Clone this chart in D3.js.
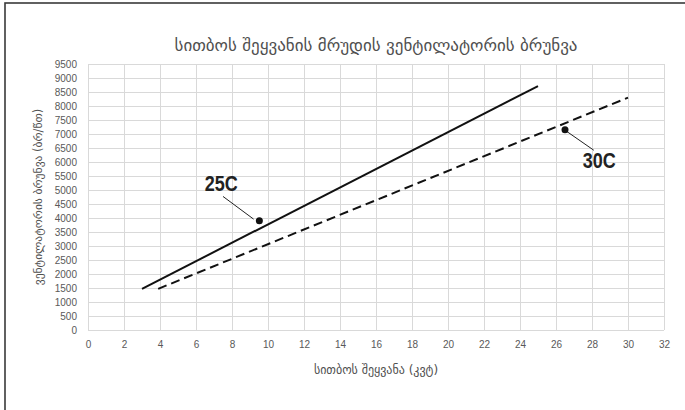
<!DOCTYPE html>
<html>
<head>
<meta charset="utf-8">
<script src="https://cdn.jsdelivr.net/npm/d3@7"></script>
<style>
  body { margin: 0; background: #fff; }
  svg { display: block; }
</style>
</head>
<body>
<svg id="mount" width="685" height="410"></svg>
<script>
var titleText = "სითბოს შეყვანის მრუდის ვენტილატორის ბრუნვა";
var xTitleText = "სითბოს შეყვანა (კვტ)";
var yTitleText = "ვენტილატორის ბრუნვა (ბრ/წთ)";

// tick values
var xTicks = d3.range(0, 33, 2);
var yTicks = d3.range(0, 9501, 500);

// series: heat input (kW) -> fan speed (rpm)
var series25x = [3, 25];
var series25y = [1470, 8710];
var series30x = [3.9, 30];
var series30y = [1470, 8300];

// callouts: label, marker point, text position (data units)
var calloutLabels = ["25C", "30C"];
var calloutPoints = [[9.52, 3900], [26.5, 7150]];
var calloutTextPos = [[7.4, 5250], [28.4, 6050]];
var calloutLineStart = [[7.5, 4770], [26.6, 7090]];
var calloutLineEnd = [[9.2, 3960], [28.1, 6420]];

var fontNum = "'Liberation Sans', Arial, sans-serif";
var fontGeo = "'DejaVu Sans', 'Noto Sans', sans-serif";

var svg = d3.select("#mount");
var margin = { top: 64, right: 21, bottom: 80, left: 88 };
var width = 685 - margin.left - margin.right;
var height = 410 - margin.top - margin.bottom;

// outer frame (right and bottom edges fall outside the view)
svg.append("rect")
  .attr("x", 5)
  .attr("y", 3)
  .attr("width", 720)
  .attr("height", 440)
  .attr("fill", "none")
  .attr("stroke", "#3a3a3a")
  .attr("stroke-width", 1.6);

var g = svg.append("g")
  .attr("transform", "translate(" + margin.left + "," + margin.top + ")");

var xScale = d3.scaleLinear().domain([0, 32]).range([0, width]);
var yScale = d3.scaleLinear().domain([0, 9500]).range([height, 0]);

// gridlines
g.append("g")
  .selectAll("line")
  .data(yTicks)
  .enter()
  .append("line")
  .attr("x1", 0)
  .attr("x2", width)
  .attr("y1", function(d) { return Math.round(yScale(d)) + 0.5; })
  .attr("y2", function(d) { return Math.round(yScale(d)) + 0.5; })
  .attr("stroke", "#d9d9d9")
  .attr("stroke-width", 1);

g.append("g")
  .selectAll("line")
  .data(xTicks)
  .enter()
  .append("line")
  .attr("y1", 0)
  .attr("y2", height)
  .attr("x1", function(d) { return Math.round(xScale(d)) + 0.5; })
  .attr("x2", function(d) { return Math.round(xScale(d)) + 0.5; })
  .attr("stroke", "#d9d9d9")
  .attr("stroke-width", 1);

// x axis
var xAxis = g.append("g")
  .attr("transform", "translate(0," + height + ")")
  .call(d3.axisBottom(xScale).tickValues(xTicks).tickSize(0).tickPadding(11));
xAxis.select(".domain").remove();
xAxis.selectAll("text")
  .attr("fill", "#595959")
  .style("font-family", fontNum)
  .style("font-size", "10px");

// y axis
var yAxis = g.append("g")
  .call(d3.axisLeft(yScale).tickValues(yTicks).tickFormat(d3.format("d")).tickSize(0).tickPadding(11));
yAxis.select(".domain").remove();
yAxis.selectAll("text")
  .attr("fill", "#595959")
  .style("font-family", fontNum)
  .style("font-size", "10px");

// lines
var line = d3.line()
  .x(function(d) { return xScale(d[0]); })
  .y(function(d) { return yScale(d[1]); });

g.append("path")
  .datum(d3.zip(series25x, series25y))
  .attr("fill", "none")
  .attr("stroke", "#111")
  .attr("stroke-width", 2)
  .attr("d", line);

g.append("path")
  .datum(d3.zip(series30x, series30y))
  .attr("fill", "none")
  .attr("stroke", "#111")
  .attr("stroke-width", 2)
  .attr("stroke-dasharray", "9,5")
  .attr("d", line);

// callouts
calloutLabels.forEach(function(label, i) {
  g.append("line")
    .attr("x1", xScale(calloutLineStart[i][0]))
    .attr("y1", yScale(calloutLineStart[i][1]))
    .attr("x2", xScale(calloutLineEnd[i][0]))
    .attr("y2", yScale(calloutLineEnd[i][1]))
    .attr("stroke", "#222")
    .attr("stroke-width", 1);
  g.append("circle")
    .attr("cx", xScale(calloutPoints[i][0]))
    .attr("cy", yScale(calloutPoints[i][1]))
    .attr("r", 3.5)
    .attr("fill", "#111");
  g.append("text")
    .attr("x", xScale(calloutTextPos[i][0]))
    .attr("y", yScale(calloutTextPos[i][1]))
    .attr("text-anchor", "middle")
    .attr("dominant-baseline", "central")
    .attr("fill", "#222")
    .attr("textLength", 33)
    .attr("lengthAdjust", "spacingAndGlyphs")
    .style("font-family", "'Liberation Sans Narrow', 'Liberation Sans', Arial, sans-serif")
    .style("font-weight", "bold")
    .style("font-size", "22px")
    .text(label);
});

// titles
svg.append("text")
  .attr("x", margin.left + width / 2)
  .attr("y", 45)
  .attr("text-anchor", "middle")
  .attr("dominant-baseline", "central")
  .attr("fill", "#505050")
  .style("font-family", fontGeo)
  .style("font-size", "17px")
  .text(titleText);

svg.append("text")
  .attr("x", margin.left + width / 2)
  .attr("y", 370)
  .attr("text-anchor", "middle")
  .attr("dominant-baseline", "central")
  .attr("fill", "#505050")
  .style("font-family", fontGeo)
  .style("font-size", "12px")
  .text(xTitleText);

svg.append("text")
  .attr("transform", "translate(38," + (margin.top + height / 2) + ") rotate(-90)")
  .attr("text-anchor", "middle")
  .attr("dominant-baseline", "central")
  .attr("fill", "#505050")
  .style("font-family", fontGeo)
  .style("font-size", "11.5px")
  .text(yTitleText);
</script>
</body>
</html>
